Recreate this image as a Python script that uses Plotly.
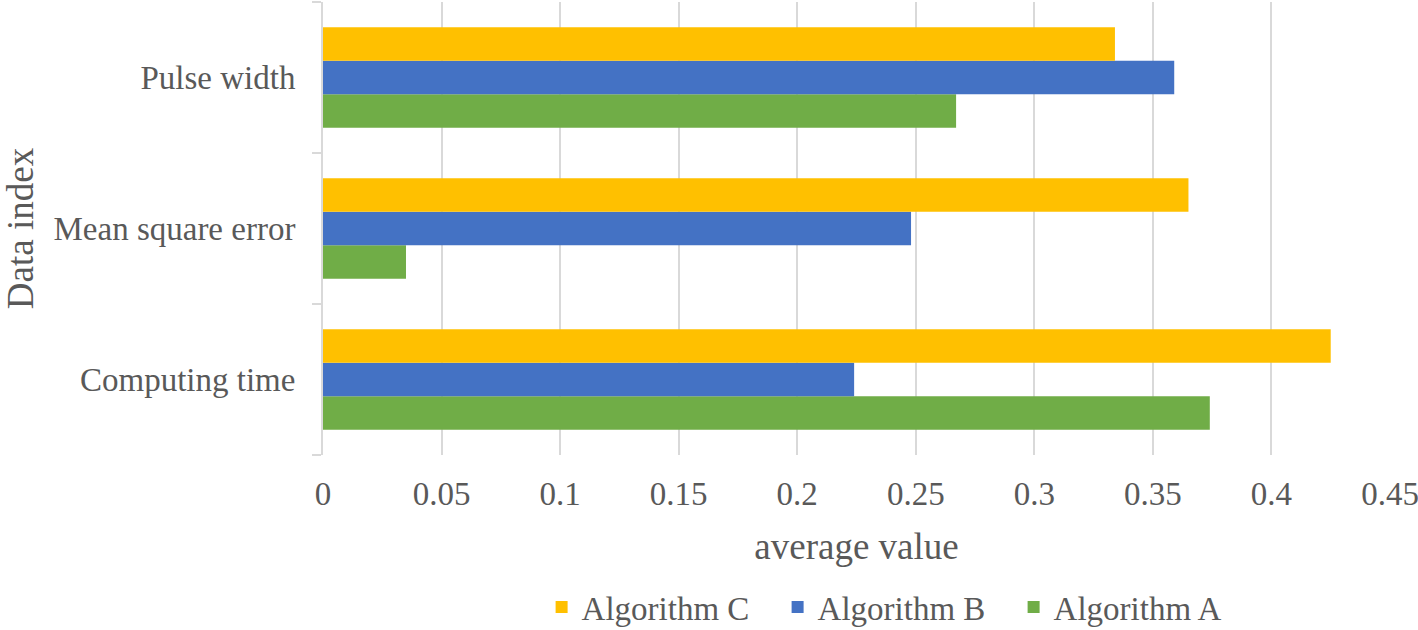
import plotly.graph_objects as go

categories = ["Computing time", "Mean square error", "Pulse width"]
algo_a = [0.374, 0.035, 0.267]
algo_b = [0.224, 0.248, 0.359]
algo_c = [0.425, 0.365, 0.334]
series_names = ["Algorithm A", "Algorithm B", "Algorithm C"]
colors = ["#70AD47", "#4472C4", "#FFC000"]
x_ticks = [0, 0.05, 0.1, 0.15, 0.2, 0.25, 0.3, 0.35, 0.4, 0.45]

FONT = "Liberation Serif"
TXT = "#595959"
GRID = "#D9D9D9"

fig = go.Figure()
for name, vals, col in zip(series_names, [algo_a, algo_b, algo_c], colors):
    fig.add_trace(go.Bar(
        y=categories, x=vals, name=name, orientation="h",
        marker=dict(color=col, line=dict(width=0)),
    ))

fig.update_layout(
    width=1418, height=630,
    margin=dict(l=323, r=28, t=2, b=175, autoexpand=False),
    paper_bgcolor="white", plot_bgcolor="white",
    barmode="group", bargap=0.335, bargroupgap=0,
    font=dict(family=FONT, color=TXT, size=33),
    legend=dict(
        orientation="h", traceorder="reversed",
        xref="container", yref="container",
        x=0.6316, xanchor="center", y=0.0365, yanchor="middle",
        font=dict(family=FONT, size=33, color=TXT),
        entrywidth=191, entrywidthmode="pixels",
        itemwidth=30,
    ),
    showlegend=True,
)

fig.update_xaxes(
    range=[0, 0.45], tickvals=x_ticks, ticktext=[f"{v:g}" for v in x_ticks],
    showgrid=True, gridcolor=GRID, gridwidth=2,
    zeroline=False, showline=False, ticks="",
    tickfont=dict(family=FONT, size=33, color=TXT),
    ticklabelstandoff=16, ticklabeloverflow="allow",
    title=dict(text="average value", font=dict(family=FONT, size=37, color=TXT), standoff=22),
)

fig.update_yaxes(
    type="category", categoryorder="array", categoryarray=categories,
    range=[-0.5, 2.5],
    showgrid=False, showline=True, linecolor=GRID, linewidth=2,
    ticks="outside", tickson="boundaries", ticklen=9, tickcolor=GRID, tickwidth=2,
    tickfont=dict(family=FONT, size=33, color=TXT),
    ticklabelstandoff=19,
    title=dict(text="Data index", font=dict(family=FONT, size=37, color=TXT), standoff=12),
)

fig.write_html(
    "out.html",
    config={"displayModeBar": False},
    post_script="document.body.style.margin='0';document.body.style.overflow='hidden';",
)
